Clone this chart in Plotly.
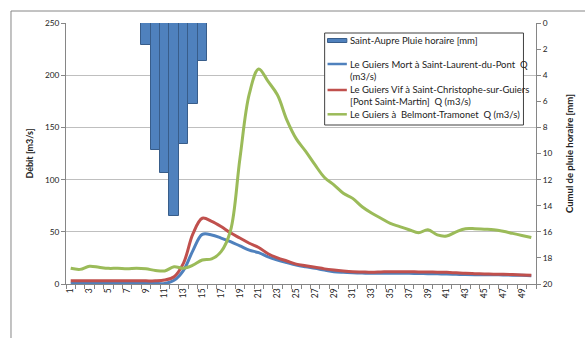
import plotly.graph_objects as go

# Hourly time steps (hours since start of event)
hours = list(range(1, 51))
tick_hours = list(range(1, 50, 2))

# Hourly rainfall at Saint-Aupre [mm]
rain_hours = [9, 10, 11, 12, 13, 14, 15]
rain_mm = [1.7, 9.7, 11.5, 14.8, 9.3, 6.2, 2.9]

# Discharges [m3/s]
q_mort = [0.5, 0.5, 0.5, 0.5, 0.5, 0.5, 0.5, 0.5, 0.5, 0.5,
          0.5, 3.5, 13, 32, 47.5, 47, 44, 40.5, 36.5, 32.5,
          30, 26, 23, 20.5, 18.2, 16.5, 15, 13.3, 11.8, 11.2,
          10.8, 10.5, 10.2, 10.2, 10.2, 10.2, 10.2, 10, 9.9, 9.7,
          9.6, 9.3, 9, 8.9, 8.9, 8.8, 8.7, 8.5, 8.3, 8]
q_vif = [3, 3, 3, 3, 3, 3, 3, 3, 3, 3,
         3.8, 7, 20, 48, 63, 60, 55, 49, 44, 39,
         35, 29, 25, 22, 19, 17.5, 16, 14.5, 13.4, 12.5,
         11.8, 11.5, 11.2, 11.5, 11.8, 11.8, 11.8, 11.6, 11.5, 11.3,
         11.2, 10.7, 10.2, 9.9, 9.6, 9.4, 9.3, 9, 8.6, 8.3]
q_belmont = [15, 14, 17, 16, 15, 15, 14.5, 15, 14.5, 13,
             12.5, 16.5, 15, 18, 23, 24, 31, 51, 120, 182,
             206, 194, 181, 157, 139, 127, 114, 102, 95, 87,
             82, 74, 68, 63, 58, 55, 52, 49, 52, 47,
             46, 50, 53, 53, 52.5, 52, 50.5, 48.5, 46.5, 44.5]

# Series labels (legend text, one list entry per text line)
rain_label = ["Saint-Aupre Pluie horaire [mm]"]
mort_label = ["Le Guiers Mort à Saint-Laurent-du-Pont  Q", "(m3/s)"]
vif_label = ["Le Guiers Vif à Saint-Christophe-sur-Guiers", "[Pont Saint-Martin]  Q (m3/s)"]
belmont_label = ["Le Guiers à  Belmont-Tramonet  Q (m3/s)"]

FONT = "Lato"
TEXT = "#222222"
AXIS_GREY = "#868686"
GRID_GREY = "#BFBFBF"
BLUE, RED, GREEN = "#4F81BD", "#C0504D", "#9BBB59"

# Plot-area geometry in pixels, used to place the legend box in paper units
W, H = 585, 338
ML, MR, MT, MB = 66, 32, 23, 54
PW, PH = W - ML - MR, H - MT - MB


def px(x):
    return (x - ML) / PW


def py(y):
    return (H - MB - y) / PH


fig = go.Figure()

fig.add_trace(go.Bar(
    x=rain_hours, y=rain_mm, yaxis="y2", width=1, name=rain_label[0],
    marker=dict(color=BLUE, line=dict(color="#385D8A", width=1)),
))
fig.add_trace(go.Scatter(
    x=hours, y=q_mort, mode="lines", name=" ".join(mort_label),
    line=dict(color=BLUE, width=3, shape="spline"),
))
fig.add_trace(go.Scatter(
    x=hours, y=q_vif, mode="lines", name=" ".join(vif_label),
    line=dict(color=RED, width=3, shape="spline"),
))
fig.add_trace(go.Scatter(
    x=hours, y=q_belmont, mode="lines", name=" ".join(belmont_label),
    line=dict(color=GREEN, width=3, shape="spline"),
))

# Legend box drawn as shapes + text
shapes = [
    # outer chart frame (left and top edges)
    dict(type="line", xref="paper", yref="paper", x0=px(9), x1=px(9), y0=py(400), y1=py(11),
         line=dict(color=AXIS_GREY, width=1)),
    dict(type="line", xref="paper", yref="paper", x0=px(9), x1=px(700), y0=py(11), y1=py(11),
         line=dict(color=AXIS_GREY, width=1)),
    # legend frame
    dict(type="rect", xref="paper", yref="paper", x0=px(334), x1=px(540), y0=py(125), y1=py(33),
         fillcolor="white", line=dict(color="#404040", width=1), layer="above"),
    # rainfall swatch
    dict(type="rect", xref="paper", yref="paper", x0=px(337), x1=px(357), y0=py(42.5), y1=py(38.5),
         fillcolor=BLUE, line=dict(color="#385D8A", width=1), layer="above"),
]
annotations = []
swatch_rows = [(BLUE, 64), (RED, 90), (GREEN, 114.3)]
for color, yy in swatch_rows:
    shapes.append(dict(type="line", xref="paper", yref="paper", x0=px(337), x1=px(357),
                       y0=py(yy), y1=py(yy), line=dict(color=color, width=2.5), layer="above"))

text_rows = [
    (rain_label[0], 40.7),
    (mort_label[0], 64), (mort_label[1], 76.7),
    (vif_label[0], 90), (vif_label[1], 101.8),
    (belmont_label[0], 114.3),
]
for txt, yy in text_rows:
    annotations.append(dict(
        xref="paper", yref="paper", x=px(358.5), y=py(yy), xanchor="left", yanchor="middle",
        text=txt, showarrow=False, font=dict(family=FONT, size=9.5, color=TEXT),
    ))

fig.update_layout(
    width=W, height=H,
    margin=dict(l=ML, r=MR, t=MT, b=MB),
    paper_bgcolor="white", plot_bgcolor="white",
    font=dict(family=FONT, size=8, color=TEXT),
    showlegend=False,
    bargap=0,
    xaxis=dict(
        range=[0.5, 50.5], tickmode="array", tickvals=tick_hours,
        ticktext=[str(t) for t in tick_hours], tickangle=-90,
        ticks="", showgrid=False, zeroline=False,
        showline=True, linecolor=AXIS_GREY, linewidth=1,
        minor=dict(tick0=0.5, dtick=1, ticks="outside", ticklen=4,
                   tickcolor=AXIS_GREY, showgrid=False),
        tickfont=dict(size=8.5),
    ),
    yaxis=dict(
        range=[0, 250], dtick=50, showgrid=True, gridcolor=GRID_GREY, gridwidth=1,
        zeroline=False, showline=True, linecolor=AXIS_GREY, linewidth=1,
        ticks="outside", ticklen=4, tickcolor=AXIS_GREY,
        title=dict(text="<b>Débit [m3/s]</b>", font=dict(size=9), standoff=9),
        tickfont=dict(size=8.3),
    ),
    yaxis2=dict(
        overlaying="y", side="right", range=[20, 0], dtick=2,
        showgrid=False, zeroline=False, showline=True, linecolor=AXIS_GREY, linewidth=1,
        ticks="outside", ticklen=4, tickcolor=AXIS_GREY,
        title=dict(text="<b>Cumul de pluie horaire [mm]</b>", font=dict(size=9.5), standoff=14),
        tickfont=dict(size=8.3),
    ),
    shapes=shapes,
    annotations=annotations,
)

fig.write_html("out.html")
